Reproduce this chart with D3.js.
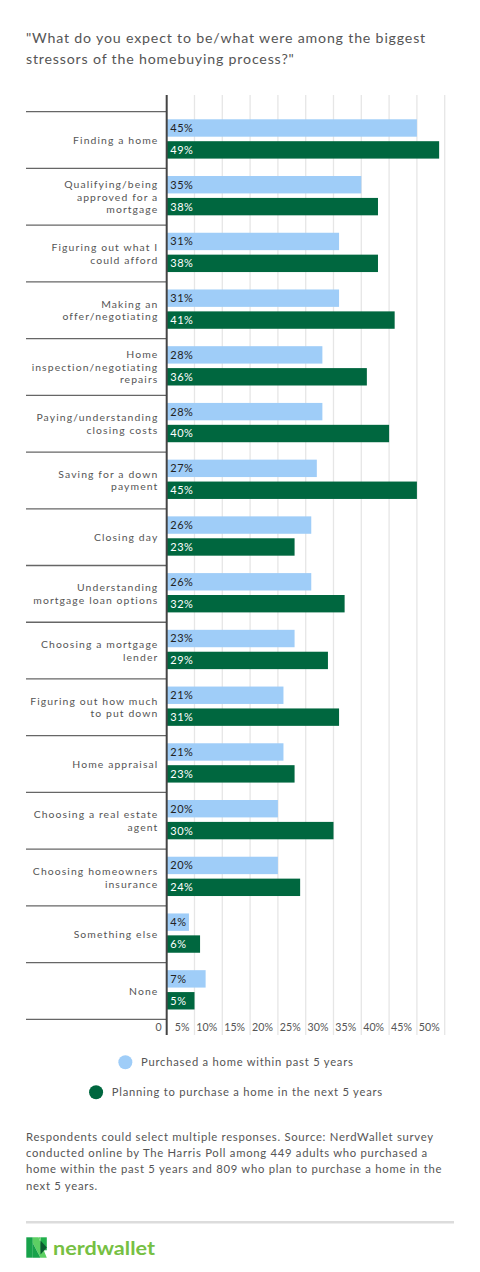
<!DOCTYPE html>
<html>
<head>
<meta charset="utf-8">
<script src="https://cdn.jsdelivr.net/npm/d3@7"></script>
<style>
  html, body { margin: 0; padding: 0; background: #fff; }
  svg { display: block; }
  text { font-family: Lato, "Open Sans", sans-serif; }
</style>
</head>
<body>
<div id="chart"></div>
<script>
// ---------- DATA ----------
const categories = [
  "Finding a home",
  "Qualifying/being|approved for a|mortgage",
  "Figuring out what I|could afford",
  "Making an|offer/negotiating",
  "Home|inspection/negotiating|repairs",
  "Paying/understanding|closing costs",
  "Saving for a down|payment",
  "Closing day",
  "Understanding|mortgage loan options",
  "Choosing a mortgage|lender",
  "Figuring out how much|to put down",
  "Home appraisal",
  "Choosing a real estate|agent",
  "Choosing homeowners|insurance",
  "Something else",
  "None"
];
const purchasedPast5 = [45, 35, 31, 31, 28, 28, 27, 26, 26, 23, 21, 21, 20, 20, 4, 7];
const planningNext5 = [49, 38, 38, 41, 36, 40, 45, 23, 32, 29, 31, 23, 30, 24, 6, 5];
const seriesNames = ["Purchased a home within past 5 years", "Planning to purchase a home in the next 5 years"];
const tickValues = [0, 5, 10, 15, 20, 25, 30, 35, 40, 45, 50];
const tickLabels = ["0", "5%", "10%", "15%", "20%", "25%", "30%", "35%", "40%", "45%", "50%"];
const titleLines = ["\"What do you expect to be/what were among the biggest", "stressors of the homebuying process?\""];
const noteLines = [
  "Respondents could select multiple responses. Source: NerdWallet survey",
  "conducted online by The Harris Poll among 449 adults who purchased a",
  "home within the past 5 years and 809 who plan to purchase a home in the",
  "next 5 years."
];

// ---------- LAYOUT ----------
const W = 480, H = 1272;
const colors = ["#9fcdf8", "#00673f"];
const textCol = "#555";

const svg = d3.select("#chart").append("svg").attr("width", W).attr("height", H);

// letter-spacing so that a sample string reaches a target width
function spacingFor(sample, size, target, weight) {
  const t = svg.append("text").attr("font-size", size).attr("font-weight", weight || 400).text(sample);
  const w = t.node().getComputedTextLength();
  t.remove();
  return Math.max(0, (target - w) / sample.length);
}

const x = d3.scaleLinear().domain([0, 50]).range([166.7, 444.7]);
const y = d3.scaleBand().domain(categories).range([111.7, 1019.3]);
const sub = d3.scaleBand().domain([0, 1]).range([7.6, 46.9]).paddingInner(0.2055);

// Title
const titleSize = 14.2;
const titleLS = spacingFor(titleLines[0], titleSize, 400);
svg.append("g").selectAll("text").data(titleLines).join("text")
  .attr("x", 26).attr("y", (d, i) => 42.5 + i * 21)
  .attr("font-size", titleSize).attr("letter-spacing", titleLS)
  .attr("fill", textCol).text(d => d);

// Gridlines
const gTop = 95, gBot = 1035;
svg.append("g").selectAll("line").data(tickValues.slice(1)).join("line")
  .attr("x1", d => x(d)).attr("x2", d => x(d))
  .attr("y1", gTop).attr("y2", gBot)
  .attr("stroke", "#e6e6e6").attr("stroke-width", 1.3);

// Category separators
const seps = categories.map(c => y(c)).concat([y.range()[1]]);
svg.append("g").selectAll("line").data(seps).join("line")
  .attr("x1", 26).attr("x2", x(0))
  .attr("y1", d => d).attr("y2", d => d)
  .attr("stroke", "#666").attr("stroke-width", 1.3);

// Bars
const rows = categories.map((c, i) => ({ c, vals: [purchasedPast5[i], planningNext5[i]] }));
const rowG = svg.append("g").selectAll("g").data(rows).join("g")
  .attr("transform", d => `translate(0,${y(d.c)})`);

rowG.selectAll("rect").data(d => d.vals.map((v, s) => ({ v, s }))).join("rect")
  .attr("x", x(0)).attr("y", d => sub(d.s))
  .attr("width", d => x(d.v) - x(0)).attr("height", sub.bandwidth())
  .attr("fill", d => colors[d.s]);

const valSize = 11;
const valLS = spacingFor("45%", valSize, 23.3);
rowG.selectAll("text.val").data(d => d.vals.map((v, s) => ({ v, s }))).join("text")
  .attr("class", "val")
  .attr("x", x(0) + 3.5).attr("y", d => sub(d.s) + sub.bandwidth() / 2)
  .attr("dy", "0.36em").attr("font-size", valSize).attr("letter-spacing", valLS)
  .attr("fill", d => d.s === 0 ? "#222" : "#fff")
  .text(d => d.v + "%");

// Category labels
const labSize = 10.4;
const labLS = spacingFor("inspection/negotiating", labSize, 127.3);
rowG.each(function (d) {
  const lines = d.c.split("|");
  const lh = 12.6;
  const mid = y.bandwidth() / 2;
  d3.select(this).append("text")
    .attr("text-anchor", "end").attr("font-size", labSize).attr("letter-spacing", labLS)
    .attr("fill", textCol)
    .selectAll("tspan").data(lines).join("tspan")
    .attr("x", 157.3 + labLS)
    .attr("y", (t, i) => mid + (i - (lines.length - 1) / 2) * lh)
    .attr("dy", "0.36em")
    .text(t => t);
});

// Zero axis line
svg.append("line").attr("x1", x(0)).attr("x2", x(0)).attr("y1", gTop).attr("y2", gBot)
  .attr("stroke", "#444").attr("stroke-width", 2);

// Tick labels
const tickSize = 10.6;
const tickLS = spacingFor("10%", tickSize, 21);
svg.append("g").selectAll("text").data(tickValues).join("text")
  .attr("x", d => x(d) - 5 + tickLS).attr("y", 1027).attr("dy", "0.36em")
  .attr("text-anchor", "end").attr("font-size", tickSize).attr("letter-spacing", tickLS)
  .attr("fill", textCol)
  .text((d, i) => tickLabels[i]);

// Legend
const legY = [1062.3, 1092.3];
const legSize = 11.2;
const legLS = spacingFor(seriesNames[0], legSize, 212.6);
seriesNames.forEach((name, i) => {
  const g = svg.append("g");
  const t = g.append("text").attr("x", 0).attr("y", legY[i]).attr("dy", "0.36em")
    .attr("font-size", legSize).attr("letter-spacing", legLS).attr("fill", textCol).text(name);
  const tw = t.node().getComputedTextLength();
  const total = 14 + 8.7 + tw;
  const start = 236 - total / 2;
  t.attr("x", start + 22.7);
  g.append("circle").attr("cx", start + 7).attr("cy", legY[i]).attr("r", 7).attr("fill", colors[i]);
});

// Footnote
const noteSize = 11.3;
const noteLS = spacingFor(noteLines[0], noteSize, 408);
svg.append("g").selectAll("text").data(noteLines).join("text")
  .attr("x", 26).attr("y", (d, i) => 1140.7 + i * 16.3)
  .attr("font-size", noteSize).attr("letter-spacing", noteLS)
  .attr("fill", textCol).text(d => d);

// Rule
svg.append("line").attr("x1", 26).attr("x2", 454).attr("y1", 1222.3).attr("y2", 1222.3)
  .attr("stroke", "#dcdcdc").attr("stroke-width", 2.5);

// Logo
const lg = svg.append("g");
lg.append("rect").attr("x", 26.3).attr("y", 1237.3).attr("width", 6.5).attr("height", 20.4).attr("fill", "#17a24a");
lg.append("path").attr("d", "M32.8,1237.3 L38.5,1237.3 L46.8,1257.7 L40.5,1257.7 L32.8,1243 Z").attr("fill", "#5ccf63");
lg.append("path").attr("d", "M32.8,1243 L40.5,1257.7 L32.8,1257.7 Z").attr("fill", "#17a24a");
lg.append("rect").attr("x", 40.5).attr("y", 1237.3).attr("width", 6.3).attr("height", 13).attr("fill", "#22b04c");
lg.append("path").attr("d", "M38.5,1237.3 L40.5,1237.3 L40.5,1242 Z").attr("fill", "#5ccf63");
lg.append("path").attr("d", "M40.5,1240.5 L46.8,1247.5 L40.5,1254.5 Z").attr("fill", "#0b5c30");
lg.append("text").attr("x", 53).attr("y", 1254.5).attr("font-size", 18.5)
  .attr("font-weight", 700).attr("fill", "#76c043")
  .attr("textLength", 102).attr("lengthAdjust", "spacingAndGlyphs")
  .text("nerdwallet");
</script>
</body>
</html>
